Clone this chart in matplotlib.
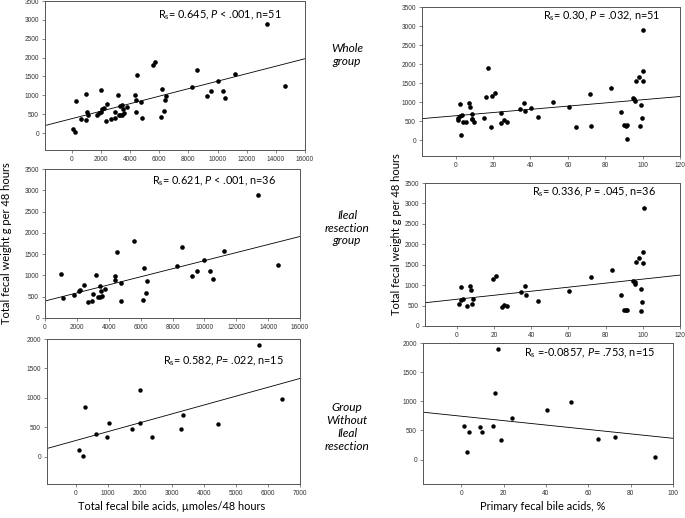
import numpy as np
import matplotlib
matplotlib.use("Agg")
import matplotlib.pyplot as plt

# ileal resection group: total fecal bile acids (umol/48 h) vs fecal weight (g/48 h)
ileal_total_ba = [983, 1150, 1840, 2110, 2200, 2450, 2720, 2970, 2990, 3180, 3300, 3420,
                  3450, 3520, 3600, 3790, 4370, 4410, 4500, 4770, 4790, 5610, 6130, 6210,
                  6320, 6420, 8260, 8620, 9250, 9540, 10000, 10360, 10540, 11210, 13390, 14620]
ileal_total_wt = [1030, 470, 540, 630, 660, 770, 380, 390, 565, 1000, 490, 490,
                  750, 630, 525, 690, 995, 885, 1550, 830, 410, 1810, 415, 1175,
                  595, 870, 1215, 1660, 975, 1105, 1370, 1115, 920, 1575, 2890, 1245]

# ileal resection group: primary fecal bile acids (%) vs fecal weight
ileal_primary_pct = [2.2, 7.2, 7.5, 1.5, 2.5, 3.5, 5.5, 8.5, 9.0, 19.7, 21.0, 24.5,
                     25.7, 27.3, 34.6, 36.6, 37.0, 43.9, 60.5, 72.0, 83.2, 88.3, 90.0, 91.0,
                     91.5, 94.6, 95.6, 96.0, 96.4, 97.9, 98.8, 99.1, 99.7, 100.0, 100.2, 100.4]
ileal_primary_wt = [960, 980, 880, 530, 630, 665, 484, 550, 673, 1160, 1230, 460,
                    516, 480, 820, 985, 755, 615, 860, 1205, 1369, 747, 395, 380,
                    385, 1106, 1085, 1020, 1566, 1656, 378, 910, 583, 1549, 1812, 2886]

# group without ileal resection
noileal_total_ba = [110, 220, 300, 620, 960, 1050, 1750, 2000, 2010, 2380, 3270, 3340,
                    4440, 5710, 6450]
noileal_total_wt = [110, 20, 850, 380, 340, 570, 470, 1130, 570, 330, 470, 710,
                    550, 1890, 985]
noileal_primary_pct = [1.5, 2.8, 3.9, 9.0, 10.0, 15.0, 16.0, 17.5, 19.0, 24.0, 40.5, 52.0,
                       64.5, 72.5, 91.5]
noileal_primary_wt = [580, 125, 475, 555, 475, 580, 1140, 1895, 340, 720, 855, 990,
                      345, 380, 35]

stats = {
    "whole_ba": r"R$_\mathrm{s}$= 0.645, $\mathit{P}$ < .001, n=51",
    "whole_pct": r"R$_\mathrm{s}$= 0.30, $\mathit{P}$ = .032, n=51",
    "ileal_ba": r"R$_\mathrm{s}$= 0.621, $\mathit{P}$ < .001, n=36",
    "ileal_pct": r"R$_\mathrm{s}$= 0.336, $\mathit{P}$ = .045, n=36",
    "noileal_ba": r"R$_\mathrm{s}$= 0.582, $\mathit{P}$= .022, n=15",
    "noileal_pct": r"R$_\mathrm{s}$ =-0.0857, $\mathit{P}$= .753, n=15",
}
group_labels = ["Whole\ngroup", "Ileal\nresection\ngroup", "Group\nWithout\nIleal\nresection"]

plt.rcParams["font.family"] = ["Lato", "DejaVu Sans"]
plt.rcParams["mathtext.fontset"] = "custom"
plt.rcParams["mathtext.rm"] = "Lato"
plt.rcParams["mathtext.it"] = "Lato:italic"

fig = plt.figure(figsize=(6.85, 5.18), dpi=100)
W, H = 685, 518


def add_ax(left, top, right, bottom):
    return fig.add_axes([left / W, 1 - bottom / H, (right - left) / W, (bottom - top) / H])


def panel(ax, x, y, xlim, ylim, xticks, yticks, label, pos, s=11):
    x = np.asarray(x, float)
    y = np.asarray(y, float)
    ax.scatter(x, y, s=s, color="black", linewidths=0, zorder=3)
    # least-squares line across the full x range
    b, a = np.polyfit(x, y, 1)
    xx = np.array(xlim, float)
    ax.plot(xx, a + b * xx, color="black", lw=0.6, zorder=2)
    ax.set_xlim(xlim)
    ax.set_ylim(ylim)
    ax.set_xticks(xticks)
    ax.set_yticks(yticks)
    for sp in ax.spines.values():
        sp.set_color("#555555")
        sp.set_linewidth(0.7)
    ax.tick_params(length=2.5, width=0.5, color="#555555", labelsize=4.7,
                   labelcolor="#333333", pad=1.8)
    for t in ax.get_xticklabels() + ax.get_yticklabels():
        t.set_fontfamily("Liberation Sans")
    ax.text(pos[0], pos[1], label, transform=ax.transAxes, fontsize=7.8,
            va="center", ha="left")


whole_ba = ileal_total_ba + noileal_total_ba
whole_ba_wt = ileal_total_wt + noileal_total_wt
whole_pct = ileal_primary_pct + noileal_primary_pct
whole_pct_wt = ileal_primary_wt + noileal_primary_wt

ax1 = add_ax(45, 1, 305, 150)
panel(ax1, whole_ba, whole_ba_wt, (-1830, 16000), (-450, 3500),
      range(0, 16001, 2000), range(0, 3501, 500), stats["whole_ba"], (0.435, 0.905))
ax2 = add_ax(422, 7, 680, 156)
panel(ax2, whole_pct, whole_pct_wt, (-18, 120), (-420, 3500),
      range(0, 121, 20), range(0, 3501, 500), stats["whole_pct"], (0.469, 0.94))
ax3 = add_ax(45, 169, 300, 318)
panel(ax3, ileal_total_ba, ileal_total_wt, (0, 16000), (0, 3500),
      range(0, 16001, 2000), range(0, 3501, 500), stats["ileal_ba"], (0.42, 0.917))
ax4 = add_ax(425, 183, 680, 326)
panel(ax4, ileal_primary_pct, ileal_primary_wt, (-17, 120), (0, 3500),
      range(0, 121, 20), range(0, 3501, 500), stats["ileal_pct"], (0.418, 0.934))
ax5 = add_ax(47, 339, 300, 484)
panel(ax5, noileal_total_ba, noileal_total_wt, (-900, 7000), (-460, 2000),
      range(0, 7001, 1000), range(0, 2001, 500), stats["noileal_ba"], (0.46, 0.845), s=10)
ax6 = add_ax(423, 343, 673, 484)
panel(ax6, noileal_primary_pct, noileal_primary_wt, (-18, 100), (-420, 2000),
      range(0, 101, 20), range(0, 2001, 500), stats["noileal_pct"], (0.404, 0.93), s=10)

for lab, yc in zip(group_labels, [55, 228, 427]):
    fig.text(347 / W, 1 - yc / H, lab, ha="center", va="center", style="italic",
             fontsize=8.6, linespacing=1.2)

fig.text(7 / W, 1 - 243 / H, "Total fecal weight g per 48 hours", rotation=90,
         ha="center", va="center", fontsize=8)
fig.text(396 / W, 1 - 234 / H, "Total fecal weight g per 48 hours", rotation=90,
         ha="center", va="center", fontsize=8)
fig.text(172 / W, 1 - 507 / H, "Total fecal bile acids, µmoles/48 hours",
         ha="center", va="center", fontsize=7.9)
fig.text(543 / W, 1 - 506 / H, "Primary fecal bile acids, %",
         ha="center", va="center", fontsize=7.9)

fig.savefig("out.png", dpi=100)
